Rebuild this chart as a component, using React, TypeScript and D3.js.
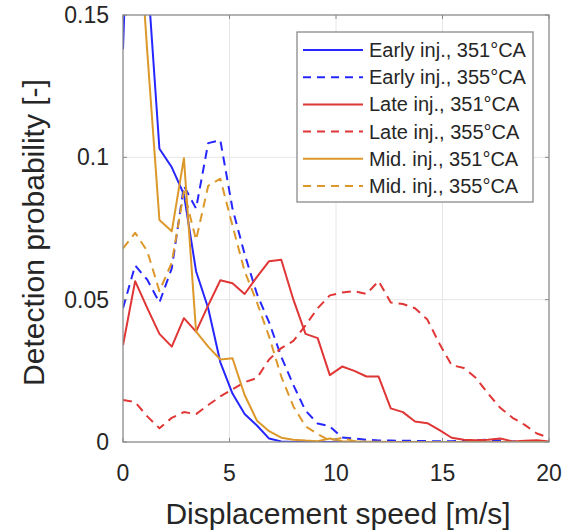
import React from "react";
import * as d3 from "d3";

const speeds = [0, 0.57, 1.14, 1.71, 2.29, 2.86, 3.43, 4, 4.57, 5.14, 5.71, 6.29, 6.86, 7.43, 8, 8.57, 9.14, 9.71, 10.29, 10.86, 11.43, 12, 12.57, 13.14, 13.71, 14.29, 14.86, 15.43, 16, 16.57, 17.14, 17.71, 18.29, 18.86, 19.43, 20];

const earlyInj351 = [0.138, 0.26, 0.165, 0.103, 0.0965, 0.087, 0.06, 0.047, 0.028, 0.017, 0.0098, 0.0058, 0.0012, 0.0002, 0, 0, 0, 0, 0, 0, 0, 0, 0, 0, 0, 0, 0, 0, 0, 0, 0, 0, 0, 0, 0, 0];
const earlyInj355 = [0.047, 0.062, 0.057, 0.049, 0.061, 0.09, 0.082, 0.105, 0.106, 0.082, 0.066, 0.052, 0.042, 0.03, 0.02, 0.011, 0.0065, 0.0055, 0.0016, 0.0012, 0.0008, 0.0005, 0.0005, 0.0004, 0.0004, 0.0003, 0.0003, 0.0003, 0.0004, 0.0006, 0.0008, 0.0005, 0.0002, 0.0001, 0.0001, 0];
const lateInj351 = [0.034, 0.0565, 0.047, 0.038, 0.0335, 0.0435, 0.0388, 0.048, 0.0568, 0.0558, 0.052, 0.058, 0.0635, 0.064, 0.05, 0.038, 0.0365, 0.0235, 0.0265, 0.025, 0.023, 0.023, 0.0118, 0.0105, 0.0072, 0.0066, 0.0042, 0.0015, 0.0008, 0.0006, 0.0008, 0.0012, 0.0002, 0.0004, 0.0006, 0.0002];
const lateInj355 = [0.0148, 0.014, 0.009, 0.0048, 0.0085, 0.0105, 0.0098, 0.013, 0.016, 0.0185, 0.021, 0.0225, 0.029, 0.033, 0.0355, 0.041, 0.047, 0.0515, 0.0525, 0.053, 0.052, 0.0565, 0.049, 0.0485, 0.047, 0.043, 0.0345, 0.027, 0.026, 0.0225, 0.017, 0.012, 0.0085, 0.006, 0.003, 0.0015];
const midInj351 = [0.24, 0.2, 0.137, 0.078, 0.074, 0.0997, 0.0388, 0.0335, 0.029, 0.0294, 0.0165, 0.0075, 0.0038, 0.0015, 0.0008, 0.0005, 0.0003, 0.0012, 0.0003, 0.0002, 0.0001, 0.0001, 0, 0, 0, 0, 0, 0, 0, 0, 0, 0, 0, 0, 0, 0];
const midInj355 = [0.068, 0.0735, 0.067, 0.053, 0.063, 0.088, 0.071, 0.09, 0.0925, 0.076, 0.06, 0.049, 0.037, 0.023, 0.0125, 0.0055, 0.0028, 0.0005, 0.0015, 0.0003, 0, 0, 0, 0, 0, 0, 0, 0, 0, 0, 0, 0, 0, 0, 0, 0];

const seriesNames = ["Early inj., 351°CA", "Early inj., 355°CA", "Late inj., 351°CA", "Late inj., 355°CA", "Mid. inj., 351°CA", "Mid. inj., 355°CA"];
const seriesValues = [earlyInj351, earlyInj355, lateInj351, lateInj355, midInj351, midInj355];
const seriesColors = ["#2626ff", "#2626ff", "#e03636", "#e03636", "#dc982a", "#dc982a"];
const seriesDashed = [false, true, false, true, false, true];

const xTicks = [0, 5, 10, 15, 20];
const yTicks = [0, 0.05, 0.1, 0.15];
const yTickLabels = ["0", "0.05", "0.1", "0.15"];
const xLabel = "Displacement speed [m/s]";
const yLabel = "Detection probability [-]";

const W = 568, H = 530;
const M = { left: 123, right: 19, top: 15, bottom: 88 };
const FONT = "'Liberation Sans', Arial, Helvetica, sans-serif";
const TXT = "#262626";
const AX = "#8a8a8a";

export default function App() {
  const x = d3.scaleLinear().domain([0, 20]).range([M.left, W - M.right]);
  const y = d3.scaleLinear().domain([0, 0.15]).range([H - M.bottom, M.top]);
  const line = d3.line<[number, number]>().x(d => x(d[0])).y(d => y(d[1]));
  const x0 = M.left, x1 = W - M.right, y0 = H - M.bottom, y1 = M.top;

  const legX = 297, legY = 32, legW = 236, legH = 170, rowH = 27.2;

  return (
    <svg width={W} height={H} style={{ position: "absolute", left: 0, top: 0, background: "#fff" }} fontFamily={FONT}>
      <defs>
        <clipPath id="plotclip"><rect x={x0} y={y1} width={x1 - x0} height={y0 - y1} /></clipPath>
      </defs>
      <rect x={0} y={0} width={W} height={H} fill="#fff" />
      {xTicks.slice(1, -1).map(t => (
        <line key={"gx" + t} x1={x(t)} x2={x(t)} y1={y0} y2={y1} stroke="#e6e6e6" strokeWidth={1} />
      ))}
      {yTicks.slice(1, -1).map(t => (
        <line key={"gy" + t} x1={x0} x2={x1} y1={y(t)} y2={y(t)} stroke="#e6e6e6" strokeWidth={1} />
      ))}
      <g clipPath="url(#plotclip)">
        {seriesValues.map((vals, i) => (
          <path key={i} d={line(speeds.map((s, j) => [s, vals[j]] as [number, number])) || ""}
            fill="none" stroke={seriesColors[i]} strokeWidth={2}
            strokeDasharray={seriesDashed[i] ? "9,6" : undefined} strokeLinejoin="round" />
        ))}
      </g>
      <rect x={x0} y={y1} width={x1 - x0} height={y0 - y1} fill="none" stroke={AX} strokeWidth={1.3} />
      {xTicks.map(t => (
        <g key={"tx" + t}>
          <line x1={x(t)} x2={x(t)} y1={y0} y2={y0 - 4} stroke={AX} />
          <line x1={x(t)} x2={x(t)} y1={y1} y2={y1 + 4} stroke={AX} />
          <text x={x(t)} y={y0 + 39} textAnchor="middle" fontSize={23} fill={TXT}>{t}</text>
        </g>
      ))}
      {yTicks.map((t, i) => (
        <g key={"ty" + t}>
          <line x1={x0} x2={x0 + 4} y1={y(t)} y2={y(t)} stroke={AX} />
          <line x1={x1} x2={x1 - 4} y1={y(t)} y2={y(t)} stroke={AX} />
          <text x={x0 - 14} y={y(t) + 8} textAnchor="end" fontSize={23} fill={TXT}>{yTickLabels[i]}</text>
        </g>
      ))}
      <text x={(x0 + x1) / 2 + 2} y={H - 6} textAnchor="middle" fontSize={30} fill={TXT}>{xLabel}</text>
      <text transform={`translate(44, ${(y0 + y1) / 2 + 4}) rotate(-90)`} textAnchor="middle" fontSize={30} fill={TXT}>{yLabel}</text>
      <rect x={legX} y={legY} width={legW} height={legH} fill="#fff" stroke={AX} strokeWidth={1.3} />
      {seriesNames.map((n, i) => {
        const cy = legY + 18 + i * rowH;
        return (
          <g key={"lg" + i}>
            <line x1={legX + 6} x2={legX + 66} y1={cy} y2={cy} stroke={seriesColors[i]} strokeWidth={2}
              strokeDasharray={seriesDashed[i] ? "8,6" : undefined} />
            <text x={legX + 72} y={cy + 7} fontSize={20} fill={TXT}>{n}</text>
          </g>
        );
      })}
    </svg>
  );
}
